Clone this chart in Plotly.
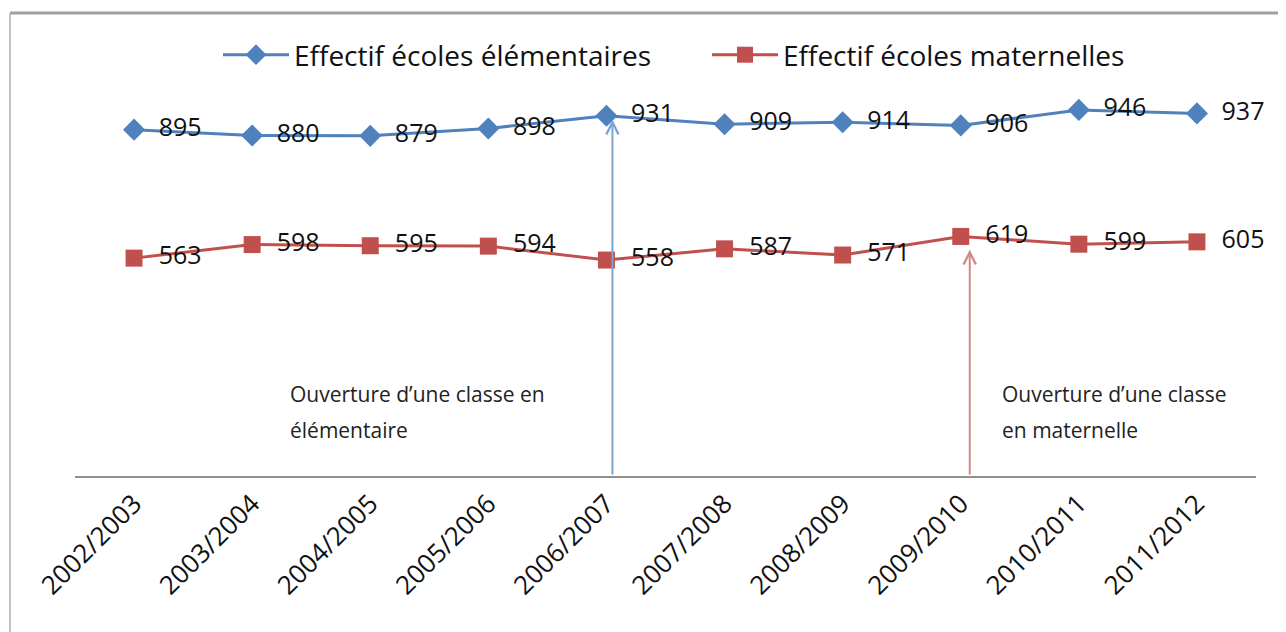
import plotly.graph_objects as go

years = ["2002/2003", "2003/2004", "2004/2005", "2005/2006", "2006/2007",
         "2007/2008", "2008/2009", "2009/2010", "2010/2011", "2011/2012"]
elementaires = [895, 880, 879, 898, 931, 909, 914, 906, 946, 937]
maternelles = [563, 598, 595, 594, 558, 587, 571, 619, 599, 605]

BLUE = "#4F81BD"
RED = "#C0504D"
FONT = "Open Sans"

# pixel geometry (page coords; body has 8px margin)
OFF = 8
L, R, T, B = 75, 1256, 89, 476
W, H = 1278, 624
def px(x):
    return (x - L) / (R - L)
def py(y):
    return (B - y) / (B - T)

fig = go.Figure()
fig.add_trace(go.Scatter(
    x=years, y=elementaires, mode="lines+markers+text",
    name="Effectif écoles élémentaires",
    line=dict(color=BLUE, width=3),
    marker=dict(symbol="diamond", size=17, color=BLUE),
    text=[str(v) for v in elementaires], textposition="middle right",
    texttemplate="  %{text}",
    textfont=dict(family=FONT, size=25, color="#111111"),
    cliponaxis=False,
))
fig.add_trace(go.Scatter(
    x=years, y=maternelles, mode="lines+markers+text",
    name="Effectif écoles maternelles",
    line=dict(color=RED, width=3),
    marker=dict(symbol="square", size=17, color=RED),
    text=[str(v) for v in maternelles], textposition="middle right",
    texttemplate="  %{text}",
    textfont=dict(family=FONT, size=25, color="#111111"),
    cliponaxis=False,
))

# arrows
fig.add_annotation(x=4, y=921, ax=4, ay=0, xref="x", yref="y", axref="x", ayref="y",
                   xshift=6, showarrow=True, arrowhead=5, arrowsize=1.2, arrowwidth=2,
                   arrowcolor="#7FA3D1", text="")
fig.add_annotation(x=7, y=585, ax=7, ay=0, xref="x", yref="y", axref="x", ayref="y",
                   xshift=9, showarrow=True, arrowhead=5, arrowsize=1.2, arrowwidth=2,
                   arrowcolor="#D08A88", text="")

notes = [
    (288, ["Ouverture d’une classe en", "élémentaire"]),
    (1000, ["Ouverture d’une classe", "en maternelle"]),
]
for xpos, lines in notes:
    for i, line in enumerate(lines):
        fig.add_annotation(x=px(xpos), y=py(394 + 36 * i), xref="paper", yref="paper",
                           xanchor="left", yanchor="middle", showarrow=False, align="left",
                           text=line, font=dict(family=FONT, size=21, color="#222222"))

# chart border (partial frame)
fig.add_shape(type="line", xref="paper", yref="paper", x0=px(10), x1=px(1290), y0=py(13), y1=py(13),
              line=dict(color="#A0A0A0", width=3))
fig.add_shape(type="line", xref="paper", yref="paper", x0=px(10), x1=px(10), y0=py(13), y1=py(640),
              line=dict(color="#B0B0B0", width=1.5))

fig.update_layout(
    width=W, height=H,
    margin=dict(l=L - OFF, r=W - (R - OFF), t=T - OFF, b=H - (B - OFF)),
    paper_bgcolor="white", plot_bgcolor="white",
    showlegend=True,
    legend=dict(orientation="h", x=px(218), xanchor="left", y=py(55), yanchor="middle",
                font=dict(family=FONT, size=28, color="#111111"),
                itemwidth=66, entrywidth=408, entrywidthmode="pixels",
                traceorder="normal"),
    xaxis=dict(type="category", range=[-0.5, 9.5], tickangle=-45, showgrid=False,
               showline=True, linecolor="#909090", linewidth=2, ticks="",
               tickfont=dict(family=FONT, size=26, color="#111111")),
    yaxis=dict(range=[0, 1000], showgrid=False, showticklabels=False, zeroline=False,
               showline=False),
)

fig.write_html("out.html")
